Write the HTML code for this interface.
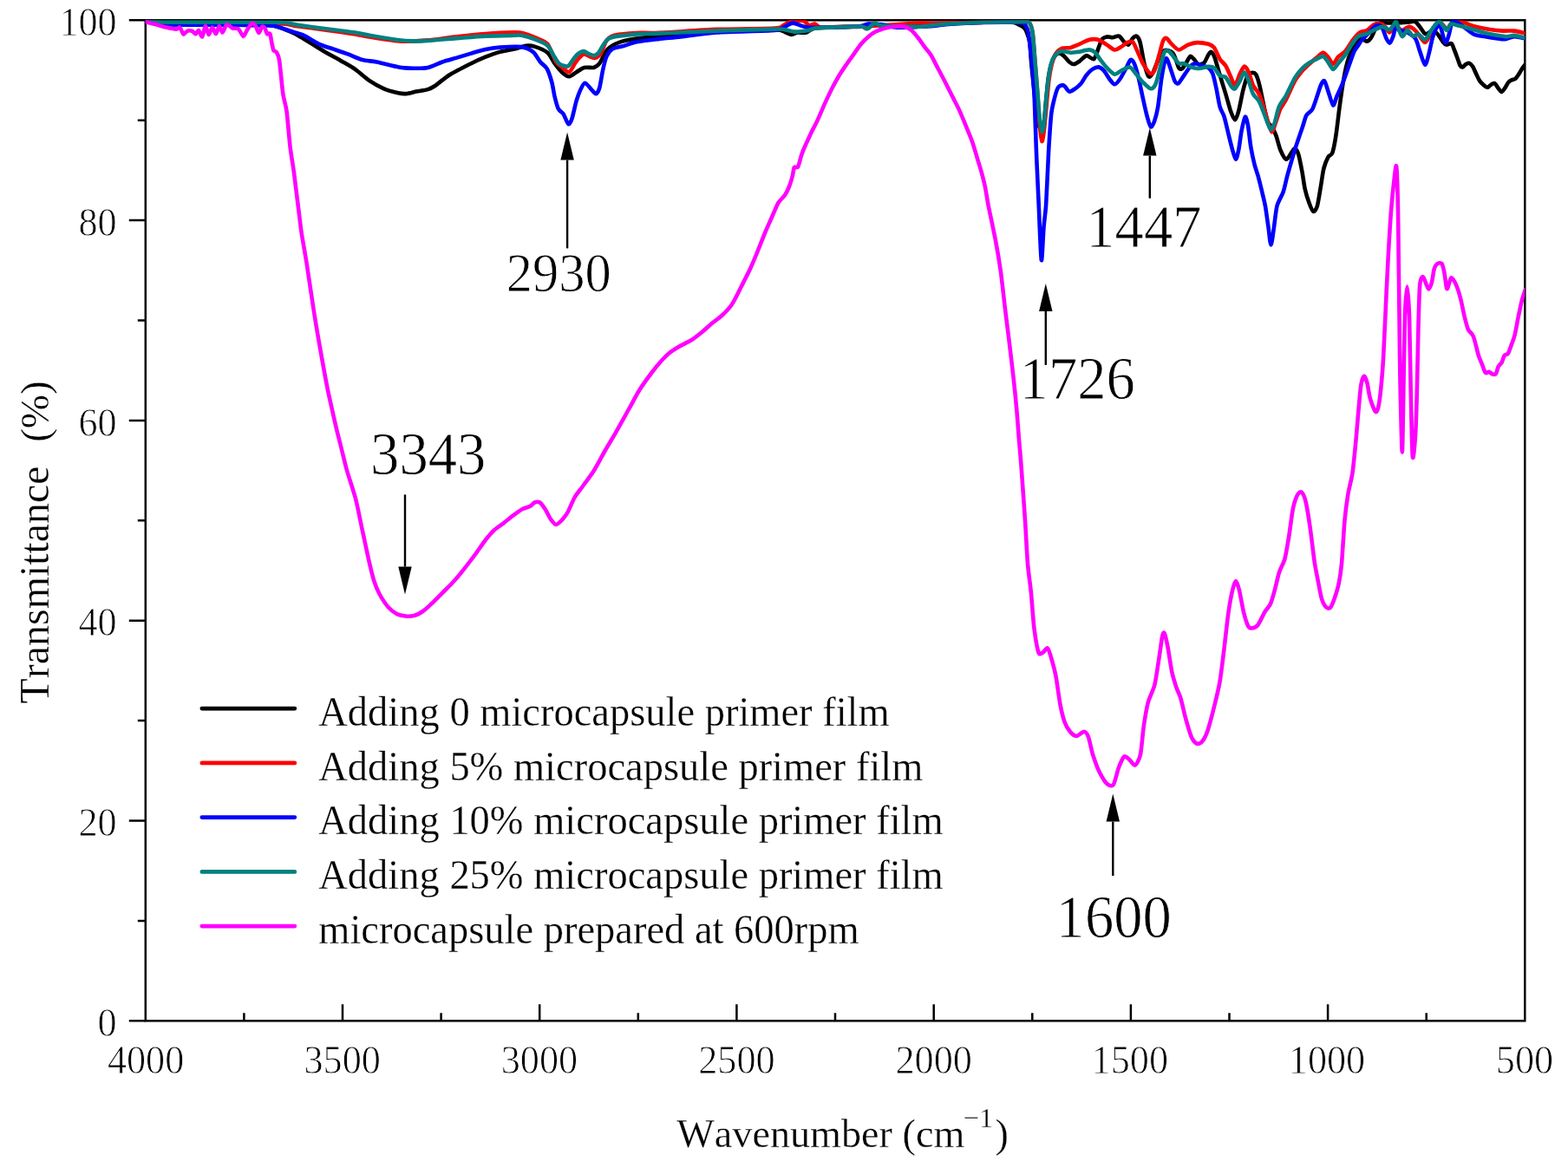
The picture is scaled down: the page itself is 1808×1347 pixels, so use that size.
<!DOCTYPE html>
<html lang="en">
<head>
<meta charset="utf-8">
<title>FTIR spectra</title>
<style>
html,body{margin:0;padding:0;background:#fff;}
body{width:1808px;height:1347px;overflow:hidden;}
svg{display:block;font-kerning:none;}
text{font-family:"Liberation Serif", serif;fill:#000;font-kerning:none;}
.leg{font-size:46.5px;}
.dg{stroke:#fff;stroke-width:0.8px;paint-order:fill stroke;}
.tx{stroke:#fff;stroke-width:0.3px;paint-order:fill stroke;}
.crv{fill:none;stroke-width:4.6;stroke-linejoin:round;stroke-linecap:round;}
</style>
</head>
<body>
<svg width="1808" height="1347" viewBox="0 0 1808 1347">
<rect x="0" y="0" width="1808" height="1347" fill="#ffffff"/>
<defs><clipPath id="plot"><rect x="167.8" y="23.3" width="1590.5" height="1154.0"/></clipPath></defs>
<g stroke="#000" stroke-width="2.5" fill="none" stroke-linecap="butt">
<rect x="167.8" y="23.3" width="1590.5" height="1154.0"/>
<path d="M148.8,1177.3H167.8M158.8,1061.9H167.8M148.8,946.5H167.8M158.8,831.1H167.8M148.8,715.7H167.8M158.8,600.3H167.8M148.8,484.9H167.8M158.8,369.5H167.8M148.8,254.1H167.8M158.8,138.7H167.8M148.8,23.3H167.8M1644.7,1177.3V1168.3M1531.1,1177.3V1158.3M1417.5,1177.3V1168.3M1303.9,1177.3V1158.3M1190.3,1177.3V1168.3M1076.7,1177.3V1158.3M963.0,1177.3V1168.3M849.4,1177.3V1158.3M735.8,1177.3V1168.3M622.2,1177.3V1158.3M508.6,1177.3V1168.3M395.0,1177.3V1158.3M281.4,1177.3V1168.3"/>
</g>
<g clip-path="url(#plot)">
<path class="crv" stroke="#000000" d="M168.0,24.0C171.3,24.5 180.7,27.4 193.0,28.0C205.3,28.6 244.4,28.3 260.0,28.5C275.6,28.7 301.7,28.8 310.0,29.2C318.3,29.6 318.7,30.6 322.0,31.6C325.3,32.6 331.8,35.3 334.6,36.5C337.4,37.7 340.8,39.3 343.0,40.5C345.2,41.7 349.1,44.2 351.3,45.5C353.5,46.8 356.3,48.5 359.6,50.5C362.9,52.5 371.8,58.1 376.2,60.7C380.6,63.3 388.4,67.3 392.8,69.9C397.2,72.5 405.1,76.8 409.5,79.9C413.9,83.0 421.7,90.2 426.1,93.2C430.5,96.2 438.3,100.4 442.7,102.3C447.1,104.2 455.9,106.5 459.3,107.3C462.7,108.1 465.5,108.3 468.3,108.1C471.1,107.9 476.7,106.3 480.0,105.6C483.3,104.9 490.4,104.0 493.3,103.1C496.2,102.2 498.3,101.2 501.6,99.0C504.9,96.8 512.7,89.9 518.2,86.5C523.7,83.1 537.7,76.0 543.2,73.2C548.7,70.4 555.4,67.5 559.8,65.7C564.2,63.9 572.0,61.1 576.4,59.9C580.8,58.7 589.0,57.5 593.0,56.6C597.0,55.7 603.2,53.3 606.3,52.9C609.4,52.5 613.0,52.6 616.3,53.6C619.6,54.6 628.2,58.1 631.3,60.7C634.4,63.3 637.4,70.2 639.6,73.2C641.8,76.2 645.7,81.2 647.9,83.2C650.1,85.2 654.0,88.2 656.2,88.2C658.4,88.2 662.3,84.6 664.6,83.2C666.9,81.8 671.0,78.6 673.7,77.9C676.4,77.2 682.2,78.5 684.5,77.9C686.8,77.3 689.2,75.8 691.2,73.2C693.2,70.6 697.1,61.2 699.5,58.2C701.9,55.2 706.0,52.5 709.5,50.8C713.0,49.1 719.5,47.0 726.1,45.8C732.7,44.6 751.4,42.4 759.3,41.6C767.2,40.8 776.0,40.2 785.0,39.5C794.0,38.8 812.1,37.2 826.5,36.5C840.9,35.8 882.4,34.0 893.0,34.1C903.6,34.2 903.7,36.7 906.3,37.5C908.9,38.3 910.4,39.9 912.2,39.9C914.0,39.9 917.4,37.8 919.7,37.5C922.0,37.2 926.9,38.2 929.6,37.5C932.3,36.8 934.5,33.3 939.6,32.5C944.7,31.7 960.8,31.6 967.9,31.3C975.0,31.0 988.5,30.3 992.8,30.5C997.1,30.7 998.3,33.5 1000.3,33.0C1002.3,32.5 1005.7,27.5 1007.8,27.0C1009.9,26.5 1012.6,29.2 1016.1,29.6C1019.6,30.0 1028.6,30.1 1034.4,30.3C1040.2,30.5 1053.7,31.0 1059.3,30.8C1064.9,30.6 1072.1,29.5 1076.6,29.1C1081.1,28.7 1085.5,27.9 1093.3,27.5C1101.1,27.1 1125.1,26.0 1134.8,25.8C1144.5,25.6 1160.9,25.6 1166.0,25.8C1171.1,26.0 1171.4,26.9 1173.0,27.5C1174.6,28.1 1176.8,29.3 1178.0,30.0C1179.2,30.7 1180.9,32.0 1181.7,33.0C1182.5,34.0 1183.2,35.2 1183.9,37.3C1184.6,39.4 1186.6,43.9 1187.3,48.4C1188.0,52.9 1188.4,63.8 1189.0,70.7C1189.6,77.6 1191.1,91.4 1192.0,100.0C1192.9,108.6 1194.9,128.3 1196.0,135.0C1197.1,141.7 1198.9,149.3 1200.0,150.0C1201.1,150.7 1203.1,144.8 1203.9,140.0C1204.7,135.2 1205.6,120.7 1206.3,114.0C1207.0,107.3 1208.0,95.4 1208.8,90.0C1209.6,84.6 1211.2,76.9 1212.2,73.5C1213.2,70.1 1215.1,66.1 1216.3,64.5C1217.5,62.9 1219.7,61.6 1221.0,61.5C1222.3,61.4 1224.7,62.8 1226.3,64.1C1227.9,65.4 1231.4,70.2 1233.0,71.5C1234.6,72.8 1236.5,74.1 1238.0,74.0C1239.5,73.9 1242.6,72.0 1244.6,70.7C1246.6,69.4 1250.7,64.4 1252.9,64.1C1255.1,63.8 1259.4,69.2 1261.2,68.2C1263.0,67.2 1265.0,59.6 1266.2,56.6C1267.4,53.6 1269.1,47.7 1270.4,45.8C1271.7,43.9 1274.5,42.7 1276.2,42.4C1277.9,42.1 1281.0,43.4 1282.9,43.3C1284.8,43.2 1288.5,40.9 1290.3,41.6C1292.1,42.3 1294.8,47.0 1296.2,48.3C1297.6,49.6 1299.8,52.2 1301.1,51.6C1302.4,51.0 1304.9,45.4 1306.1,44.1C1307.3,42.8 1309.2,41.0 1310.3,41.6C1311.4,42.2 1313.3,44.1 1314.5,48.3C1315.7,52.5 1318.1,67.9 1319.4,73.2C1320.7,78.5 1323.1,86.8 1324.4,88.2C1325.7,89.6 1327.9,86.7 1329.4,84.0C1330.9,81.3 1334.2,71.4 1336.0,68.0C1337.8,64.6 1340.5,59.1 1342.7,58.2C1344.9,57.3 1350.5,58.9 1352.7,61.6C1354.9,64.3 1357.9,75.9 1359.3,78.2C1360.7,80.5 1362.1,79.9 1363.3,79.0C1364.5,78.1 1367.1,73.4 1368.3,71.5C1369.5,69.6 1371.4,65.3 1372.5,64.9C1373.6,64.5 1375.4,67.0 1376.6,68.2C1377.8,69.4 1380.0,73.4 1381.6,74.0C1383.2,74.6 1386.7,73.8 1388.3,72.4C1389.9,71.0 1392.2,64.9 1393.3,63.2C1394.4,61.5 1395.6,59.4 1396.6,59.9C1397.6,60.4 1399.4,63.1 1400.7,66.6C1402.0,70.1 1404.9,81.0 1406.6,86.5C1408.3,92.0 1411.5,102.6 1413.2,108.1C1414.9,113.6 1417.6,124.1 1419.0,128.1C1420.4,132.1 1422.8,138.1 1424.0,138.1C1425.2,138.1 1427.0,132.5 1428.2,128.1C1429.4,123.7 1431.9,110.1 1433.2,104.8C1434.5,99.5 1436.9,91.0 1438.2,88.2C1439.5,85.4 1441.9,84.3 1443.2,84.0C1444.5,83.7 1446.9,83.8 1448.1,85.7C1449.3,87.6 1451.2,93.9 1452.3,98.2C1453.4,102.5 1455.3,112.6 1456.5,118.1C1457.7,123.6 1460.1,136.0 1461.4,139.7C1462.7,143.4 1465.1,143.8 1466.4,146.0C1467.7,148.2 1470.1,152.8 1471.4,156.4C1472.7,160.0 1474.8,169.3 1476.4,173.0C1478.0,176.7 1481.4,183.4 1483.1,183.8C1484.8,184.2 1487.6,178.0 1488.9,176.3C1490.2,174.6 1491.9,171.1 1493.0,171.3C1494.1,171.5 1496.1,174.5 1497.2,178.0C1498.3,181.5 1500.4,192.6 1501.4,197.9C1502.4,203.2 1503.6,213.0 1504.7,217.9C1505.8,222.8 1508.4,231.0 1509.7,234.5C1511.0,238.0 1513.1,243.3 1514.3,243.8C1515.5,244.3 1517.6,241.8 1518.8,237.9C1520.0,234.0 1522.0,220.4 1523.0,214.6C1524.0,208.8 1525.2,199.0 1526.3,194.6C1527.4,190.2 1530.0,183.7 1531.3,181.3C1532.6,178.9 1535.1,179.6 1536.3,176.3C1537.5,173.0 1539.3,163.5 1540.4,156.4C1541.5,149.3 1543.4,132.0 1544.6,123.1C1545.8,114.2 1548.3,97.1 1549.6,89.8C1550.9,82.5 1553.1,73.1 1554.6,68.2C1556.1,63.3 1559.4,56.4 1561.2,53.3C1563.0,50.2 1566.5,45.9 1567.9,44.9C1569.3,43.9 1570.8,45.2 1572.0,45.6C1573.2,46.0 1575.4,48.0 1576.6,47.6C1577.8,47.2 1580.0,44.9 1581.3,42.9C1582.6,40.9 1585.0,34.6 1586.6,32.3C1588.2,30.0 1591.4,26.4 1593.2,25.6C1595.0,24.8 1596.9,26.4 1599.9,26.5C1602.9,26.6 1612.6,26.4 1615.8,26.3C1619.0,26.2 1621.7,25.8 1623.8,25.6C1625.9,25.4 1630.0,24.3 1631.8,25.0C1633.6,25.7 1635.6,29.0 1637.1,30.9C1638.6,32.8 1641.7,38.0 1643.1,38.9C1644.5,39.8 1646.4,38.1 1647.7,37.6C1649.0,37.1 1651.6,34.6 1653.0,34.9C1654.4,35.2 1656.9,38.4 1658.3,40.2C1659.7,42.0 1662.5,46.7 1663.7,48.2C1664.9,49.7 1666.3,51.2 1667.6,51.5C1668.9,51.8 1672.4,49.4 1673.6,50.2C1674.8,51.0 1675.9,55.1 1676.9,57.5C1677.9,59.9 1680.0,65.8 1680.9,68.2C1681.8,70.6 1682.9,74.3 1683.6,75.5C1684.3,76.7 1685.3,77.7 1686.2,77.5C1687.1,77.3 1689.1,74.7 1690.2,74.1C1691.3,73.5 1693.1,72.4 1694.2,72.8C1695.3,73.2 1697.1,75.1 1698.2,76.8C1699.3,78.5 1701.1,83.2 1702.2,85.4C1703.3,87.6 1705.0,91.6 1706.2,93.4C1707.4,95.2 1710.3,97.7 1711.5,98.7C1712.7,99.7 1714.4,100.9 1715.5,100.7C1716.6,100.5 1718.4,98.0 1719.5,97.4C1720.6,96.8 1722.4,95.6 1723.5,96.1C1724.6,96.6 1726.3,100.1 1727.4,101.4C1728.5,102.7 1730.3,106.0 1731.4,106.0C1732.5,106.0 1734.3,102.9 1735.4,101.4C1736.5,99.9 1738.3,95.9 1739.4,94.7C1740.5,93.5 1742.3,92.6 1743.4,92.1C1744.5,91.6 1746.3,91.6 1747.4,90.7C1748.5,89.8 1750.3,87.0 1751.4,85.4C1752.5,83.8 1754.4,80.2 1755.3,78.8C1756.2,77.4 1757.9,75.3 1758.3,74.8"/>
<path class="crv" stroke="#ff0000" d="M168.0,24.0C171.3,24.4 173.0,26.8 193.0,27.2C213.0,27.6 298.0,26.8 318.0,27.2C338.0,27.6 335.3,29.3 343.0,30.3C350.7,31.3 367.1,33.4 376.0,34.6C384.9,35.8 402.8,38.4 409.5,39.5C416.2,40.6 419.3,41.5 426.0,42.6C432.7,43.7 451.1,46.9 460.0,47.4C468.9,47.9 484.1,47.1 493.0,46.4C501.9,45.7 517.6,43.4 526.5,42.4C535.4,41.4 550.9,39.8 559.8,39.1C568.7,38.4 587.2,37.5 593.0,37.4C598.8,37.3 599.7,37.4 603.0,38.2C606.3,39.0 614.2,41.9 618.0,43.6C621.8,45.3 628.2,47.1 631.3,50.8C634.4,54.5 639.1,68.0 641.3,71.5C643.5,75.0 645.9,75.8 647.9,77.4C649.9,79.0 654.2,83.8 656.2,83.2C658.2,82.6 661.3,75.4 662.9,73.2C664.5,71.0 666.5,68.0 667.9,66.6C669.3,65.2 671.9,62.5 673.7,62.4C675.5,62.3 679.5,65.1 681.2,65.7C682.9,66.3 684.7,67.4 686.2,66.9C687.7,66.4 691.0,64.3 692.8,61.6C694.6,58.9 697.3,49.4 699.5,46.6C701.7,43.8 704.8,41.6 709.5,40.5C714.2,39.4 727.7,38.4 734.4,38.0C741.1,37.6 747.7,38.3 760.0,37.8C772.3,37.3 808.8,34.6 826.5,33.9C844.2,33.2 882.8,33.2 893.0,32.6C903.0,32.0 900.3,30.6 903.0,29.5C905.7,28.4 909.9,24.8 913.0,24.1C916.1,23.4 923.6,23.4 926.3,24.1C929.0,24.8 931.2,28.6 933.0,29.1C934.8,29.6 937.8,27.2 939.6,27.5C941.4,27.8 942.5,31.2 946.3,31.6C950.1,32.0 961.7,30.9 967.9,30.8C974.1,30.7 980.6,31.4 992.8,30.8C1005.0,30.2 1048.1,27.1 1059.3,26.6C1070.5,26.1 1072.1,27.0 1076.6,27.0C1081.1,27.0 1085.5,26.7 1093.3,26.5C1101.1,26.3 1123.7,26.0 1134.8,25.8C1145.9,25.6 1169.5,25.3 1176.4,25.3C1183.3,25.3 1184.5,24.3 1186.4,25.8C1188.3,27.3 1189.6,31.4 1190.5,36.6C1191.4,41.8 1192.2,55.1 1193.0,64.9C1193.8,74.7 1195.6,99.3 1196.4,110.0C1197.2,120.7 1198.2,137.9 1198.9,145.0C1199.6,152.1 1200.7,162.3 1201.4,163.0C1202.1,163.7 1203.2,155.7 1203.9,150.0C1204.6,144.3 1206.1,127.7 1206.8,120.0C1207.5,112.3 1208.7,98.2 1209.5,92.0C1210.3,85.8 1212.0,77.1 1213.0,73.2C1214.0,69.3 1215.6,64.8 1217.0,62.5C1218.4,60.2 1221.5,57.0 1223.8,56.0C1226.1,55.0 1232.1,55.5 1234.6,54.9C1237.1,54.3 1240.0,52.8 1242.9,51.6C1245.8,50.4 1253.1,46.6 1256.2,45.8C1259.3,45.0 1263.5,45.0 1266.2,45.8C1268.9,46.6 1273.7,50.1 1276.2,51.6C1278.7,53.1 1283.1,57.1 1285.3,57.4C1287.5,57.7 1290.9,55.2 1292.8,54.1C1294.7,53.0 1297.7,49.9 1299.5,49.1C1301.3,48.3 1304.6,47.1 1306.1,48.3C1307.6,49.5 1309.5,54.9 1311.1,58.2C1312.7,61.5 1315.8,69.7 1317.8,73.2C1319.8,76.7 1324.3,83.7 1326.1,84.8C1327.9,85.9 1329.8,84.2 1331.1,81.5C1332.4,78.8 1334.8,69.4 1336.1,64.9C1337.4,60.4 1339.8,50.2 1341.0,47.4C1342.2,44.6 1343.9,43.6 1345.2,44.1C1346.5,44.6 1349.1,49.0 1351.0,50.8C1352.9,52.6 1356.8,57.3 1359.3,57.4C1361.8,57.5 1367.2,52.7 1370.0,51.6C1372.8,50.5 1376.9,49.2 1380.0,49.1C1383.1,49.0 1390.6,50.0 1393.3,50.8C1396.0,51.6 1398.2,52.6 1400.0,54.9C1401.8,57.2 1404.8,65.4 1406.6,68.2C1408.4,71.0 1411.5,73.0 1413.2,75.7C1414.9,78.4 1417.6,85.2 1419.0,88.2C1420.4,91.2 1422.6,98.7 1424.0,98.2C1425.4,97.7 1428.4,87.7 1429.8,84.8C1431.2,81.9 1433.5,76.7 1434.8,76.5C1436.1,76.3 1438.5,80.3 1439.8,83.2C1441.1,86.1 1443.2,94.9 1444.8,98.2C1446.4,101.5 1449.9,105.0 1451.5,108.1C1453.1,111.2 1455.2,117.4 1456.5,121.4C1457.8,125.4 1460.1,134.0 1461.4,138.1C1462.7,142.2 1465.1,151.9 1466.4,152.2C1467.7,152.5 1470.1,143.6 1471.4,140.0C1472.7,136.4 1474.8,128.9 1476.4,125.5C1478.0,122.1 1480.9,118.8 1483.1,114.5C1485.3,110.2 1490.6,97.8 1493.0,93.5C1495.4,89.2 1499.2,84.6 1501.4,82.0C1503.6,79.4 1507.5,75.9 1509.7,73.8C1511.9,71.7 1515.9,68.3 1518.0,66.6C1520.1,64.9 1523.7,60.8 1525.5,60.7C1527.3,60.6 1529.8,63.9 1531.3,65.7C1532.8,67.5 1535.6,74.0 1537.1,74.0C1538.6,74.0 1541.0,67.7 1542.9,65.7C1544.8,63.7 1549.0,61.6 1551.2,59.1C1553.4,56.6 1557.4,49.5 1559.6,46.6C1561.8,43.7 1565.7,39.0 1567.9,37.5C1570.1,36.0 1574.0,36.2 1576.2,35.0C1578.4,33.8 1582.3,29.3 1584.5,28.3C1586.7,27.3 1591.0,27.1 1592.8,27.5C1594.6,27.9 1596.6,30.3 1597.8,31.6C1599.0,32.9 1600.9,37.4 1602.0,37.5C1603.1,37.6 1605.1,33.7 1606.1,32.5C1607.1,31.3 1608.5,28.2 1609.5,28.3C1610.5,28.4 1612.5,32.1 1613.5,33.0C1614.5,33.9 1615.6,35.2 1617.1,34.9C1618.6,34.6 1623.0,30.7 1625.1,30.9C1627.2,31.1 1630.7,33.9 1633.1,36.3C1635.5,38.7 1640.8,48.7 1643.1,48.9C1645.4,49.1 1648.1,40.7 1650.4,37.6C1652.7,34.5 1657.9,26.5 1660.3,26.0C1662.7,25.5 1666.6,33.3 1668.3,33.5C1670.0,33.7 1671.5,28.7 1673.0,27.6C1674.5,26.5 1677.5,25.8 1679.6,25.6C1681.7,25.4 1686.2,25.7 1688.9,26.3C1691.6,26.9 1695.4,29.2 1699.5,30.3C1703.6,31.4 1715.1,33.6 1719.5,34.3C1723.9,35.0 1729.3,35.4 1732.8,35.6C1736.3,35.8 1742.6,35.2 1746.0,35.6C1749.4,36.0 1756.7,37.9 1758.3,38.3"/>
<path class="crv" stroke="#0000ff" d="M168.0,24.0C171.3,24.6 180.7,27.6 193.0,28.2C205.3,28.8 244.4,28.6 260.0,28.7C275.6,28.8 301.7,28.9 310.0,29.3C318.3,29.7 318.7,30.6 322.0,31.5C325.3,32.4 330.9,34.6 334.6,35.8C338.3,37.0 345.6,38.6 350.0,40.6C354.4,42.6 363.3,48.7 367.9,50.8C372.5,52.9 380.1,55.1 384.5,56.6C388.9,58.1 396.7,60.7 401.1,62.4C405.5,64.1 413.4,67.8 417.8,69.0C422.2,70.2 428.8,70.4 434.4,71.5C440.0,72.6 454.4,76.4 460.0,77.4C465.6,78.4 472.2,78.6 476.6,78.7C481.0,78.8 488.9,78.9 493.3,77.9C497.7,76.9 505.5,73.0 509.9,71.5C514.3,70.0 522.1,67.9 526.5,66.6C530.9,65.3 538.8,62.9 543.2,61.6C547.6,60.3 555.4,57.8 559.8,56.9C564.2,56.0 570.9,55.0 576.4,54.6C581.9,54.2 596.3,53.4 601.4,54.1C606.5,54.8 611.8,57.6 614.7,59.9C617.6,62.2 620.9,69.0 623.0,71.5C625.1,74.0 628.7,75.9 630.5,79.0C632.3,82.1 635.1,90.5 636.3,94.8C637.5,99.1 638.6,107.4 639.6,111.5C640.6,115.6 642.5,122.9 643.8,125.6C645.1,128.3 648.1,129.1 649.6,131.4C651.1,133.7 654.1,142.4 655.4,143.1C656.7,143.8 658.4,140.0 659.6,136.4C660.8,132.8 663.3,120.8 664.6,116.4C665.9,112.0 668.2,105.9 669.5,103.1C670.8,100.3 672.9,95.8 674.5,95.7C676.1,95.6 679.5,100.6 681.2,102.3C682.9,104.0 685.7,108.2 687.0,108.1C688.3,108.0 690.1,105.3 691.2,101.5C692.3,97.7 694.2,84.8 695.3,79.9C696.4,75.0 698.1,68.0 699.5,64.9C700.9,61.8 703.7,58.1 706.1,56.6C708.5,55.1 714.0,54.4 717.8,53.3C721.6,52.2 728.8,49.4 734.4,48.3C740.0,47.2 753.3,45.7 760.0,44.9C766.7,44.1 776.1,43.4 785.0,42.4C793.9,41.4 812.1,38.5 826.5,37.5C840.9,36.5 882.6,35.9 893.0,35.0C903.4,34.1 901.8,31.9 904.7,30.8C907.6,29.7 911.2,26.5 914.7,26.6C918.2,26.7 924.2,31.0 931.3,31.6C938.4,32.2 959.7,31.5 967.9,31.3C976.1,31.1 988.4,30.5 992.8,30.0C997.2,29.5 997.9,27.7 1001.0,27.5C1004.1,27.3 1011.5,27.8 1016.0,28.3C1020.5,28.8 1028.6,31.3 1034.4,31.6C1040.2,31.9 1053.7,31.0 1059.3,30.8C1064.9,30.6 1072.1,30.4 1076.6,30.0C1081.1,29.6 1085.5,28.5 1093.3,28.0C1101.1,27.5 1124.6,26.3 1134.8,26.0C1145.0,25.7 1164.1,25.7 1170.0,25.8C1175.9,25.9 1177.3,26.2 1179.0,26.6C1180.7,27.0 1181.6,27.6 1182.5,29.0C1183.4,30.4 1184.9,33.7 1185.6,37.3C1186.3,40.9 1187.5,51.5 1188.0,56.0C1188.5,60.5 1189.1,66.2 1189.5,70.7C1189.9,75.2 1190.8,83.7 1191.2,89.6C1191.6,95.5 1192.3,102.6 1192.8,114.8C1193.3,127.0 1194.5,164.9 1195.2,181.3C1195.9,197.7 1197.1,222.1 1197.8,237.9C1198.5,253.7 1200.0,296.8 1200.8,300.0C1201.6,303.2 1202.8,270.3 1203.5,262.0C1204.2,253.7 1205.4,246.4 1206.0,237.9C1206.6,229.4 1207.5,207.8 1208.0,198.0C1208.5,188.2 1209.1,173.6 1209.7,164.7C1210.3,155.8 1211.4,138.1 1212.2,131.4C1213.0,124.7 1214.5,118.8 1215.5,114.8C1216.5,110.8 1218.5,103.7 1219.7,101.5C1220.9,99.3 1223.5,98.4 1224.6,98.2C1225.7,98.0 1226.9,98.8 1228.0,99.8C1229.1,100.8 1231.5,105.3 1233.0,105.6C1234.5,105.9 1237.8,103.5 1239.6,102.3C1241.4,101.1 1244.5,98.6 1246.3,96.5C1248.1,94.4 1251.1,88.7 1252.9,86.5C1254.7,84.3 1257.7,81.1 1259.6,79.9C1261.5,78.7 1265.2,77.2 1267.0,77.4C1268.8,77.6 1271.2,79.6 1272.9,81.5C1274.6,83.4 1277.8,89.4 1279.5,91.5C1281.2,93.6 1283.7,97.3 1285.3,97.3C1286.9,97.3 1289.5,93.8 1291.2,91.5C1292.9,89.2 1296.1,82.9 1297.8,79.9C1299.5,76.9 1302.3,69.9 1303.6,69.0C1304.9,68.1 1306.6,70.4 1307.8,73.2C1309.0,76.0 1311.5,84.5 1312.8,89.8C1314.1,95.1 1316.5,107.1 1317.8,113.1C1319.1,119.1 1321.6,130.3 1322.8,134.7C1324.0,139.1 1325.8,145.7 1326.9,146.4C1328.0,147.1 1330.0,142.8 1331.1,139.7C1332.2,136.6 1334.1,129.8 1335.2,123.1C1336.3,116.4 1338.2,97.2 1339.4,89.8C1340.6,82.4 1343.1,68.9 1344.4,67.4C1345.7,65.9 1348.1,74.8 1349.4,78.2C1350.7,81.6 1353.3,90.8 1354.4,93.2C1355.5,95.6 1357.0,96.3 1357.7,96.5C1358.4,96.7 1358.8,96.4 1360.0,94.8C1361.2,93.2 1364.9,87.3 1366.7,84.8C1368.5,82.3 1371.8,77.2 1373.3,75.7C1374.8,74.2 1376.5,73.2 1378.3,73.2C1380.1,73.2 1384.6,75.0 1386.6,75.7C1388.6,76.4 1391.7,77.0 1393.3,78.2C1394.9,79.4 1397.1,81.7 1398.3,84.8C1399.5,87.9 1401.3,96.4 1402.4,101.5C1403.5,106.6 1405.4,118.7 1406.6,123.1C1407.8,127.5 1410.3,130.5 1411.6,134.7C1412.9,138.9 1415.3,149.8 1416.5,154.7C1417.7,159.6 1419.6,167.4 1420.7,171.3C1421.8,175.2 1423.9,183.6 1424.9,183.8C1425.9,184.0 1427.3,177.3 1428.2,173.0C1429.1,168.7 1430.5,156.5 1431.5,151.4C1432.5,146.3 1434.7,135.6 1435.7,134.7C1436.7,133.8 1438.1,140.0 1439.0,144.7C1439.9,149.4 1441.3,163.7 1442.3,169.7C1443.3,175.7 1445.4,185.2 1446.5,189.6C1447.6,194.0 1449.5,198.9 1450.6,202.9C1451.7,206.9 1453.7,214.9 1454.8,219.6C1455.9,224.3 1458.0,232.2 1459.0,237.9C1460.0,243.6 1461.6,256.1 1462.5,262.0C1463.4,267.9 1464.6,282.5 1465.5,282.5C1466.4,282.5 1468.1,268.0 1469.0,262.0C1469.9,256.0 1471.1,242.9 1472.5,237.5C1473.9,232.1 1478.1,226.0 1479.7,221.2C1481.3,216.4 1482.9,207.7 1484.7,201.3C1486.5,194.9 1490.8,180.1 1493.0,173.0C1495.2,165.9 1499.6,153.3 1501.4,148.0C1503.2,142.7 1504.8,136.0 1506.3,133.1C1507.8,130.2 1511.4,129.1 1513.0,126.4C1514.6,123.7 1516.7,116.9 1518.0,113.1C1519.3,109.3 1521.8,100.9 1523.0,98.2C1524.2,95.5 1526.0,92.3 1527.1,93.2C1528.2,94.1 1530.0,101.0 1531.3,104.8C1532.6,108.6 1535.8,120.5 1537.1,121.4C1538.4,122.3 1539.9,114.8 1541.3,111.5C1542.7,108.2 1546.1,100.9 1547.9,96.5C1549.7,92.1 1552.8,83.1 1554.6,78.2C1556.4,73.3 1559.8,63.2 1561.2,59.9C1562.6,56.6 1564.0,55.4 1565.3,53.5C1566.6,51.6 1568.7,47.9 1570.6,45.6C1572.5,43.3 1577.8,38.4 1579.9,36.3C1582.0,34.2 1584.8,30.3 1586.6,29.6C1588.4,28.9 1591.6,29.0 1593.2,30.9C1594.8,32.8 1597.3,41.7 1598.5,44.2C1599.7,46.7 1601.4,49.9 1602.5,49.6C1603.6,49.3 1605.5,44.3 1606.5,41.6C1607.5,38.9 1608.9,30.5 1609.8,29.6C1610.7,28.7 1611.6,34.1 1613.0,35.0C1614.4,35.9 1617.5,34.8 1620.0,36.0C1622.5,37.2 1629.5,41.1 1631.8,44.2C1634.1,47.3 1635.6,54.8 1637.1,58.9C1638.6,63.0 1641.7,74.5 1643.1,74.8C1644.5,75.1 1646.6,65.6 1647.7,61.5C1648.8,57.4 1650.5,48.3 1651.7,44.2C1652.9,40.1 1655.8,32.7 1657.0,30.9C1658.2,29.1 1659.9,28.9 1661.0,30.9C1662.1,32.9 1664.1,43.2 1665.0,45.6C1665.9,48.0 1666.8,49.8 1667.6,48.9C1668.4,48.0 1670.1,42.0 1671.0,38.9C1671.9,35.8 1673.2,27.4 1674.3,25.6C1675.4,23.8 1677.8,24.9 1679.6,25.6C1681.4,26.3 1684.9,29.0 1687.6,30.9C1690.3,32.8 1696.1,38.1 1699.5,39.6C1702.9,41.1 1708.7,41.5 1712.8,42.2C1716.9,42.9 1726.9,44.5 1730.1,44.9C1733.3,45.3 1734.6,45.3 1736.7,44.9C1738.8,44.5 1743.1,42.3 1746.0,42.2C1748.9,42.1 1756.7,43.9 1758.3,44.2"/>
<path class="crv" stroke="#008080" d="M168.0,24.0C171.3,24.2 173.0,25.4 193.0,25.6C213.0,25.8 298.0,25.4 318.0,25.8C338.0,26.2 335.3,27.8 343.0,28.8C350.7,29.8 367.1,32.1 376.0,33.3C384.9,34.5 402.8,36.5 409.5,37.5C416.2,38.5 419.3,39.6 426.0,40.8C432.7,42.0 453.3,45.4 460.0,46.3C466.7,47.2 472.2,47.3 476.6,47.4C481.0,47.5 486.6,47.3 493.3,46.9C500.0,46.5 517.6,44.8 526.5,44.1C535.4,43.4 550.9,42.0 559.8,41.6C568.7,41.2 587.5,40.9 593.0,40.8C598.5,40.7 598.1,40.1 601.4,40.8C604.7,41.5 614.0,44.3 618.0,45.8C622.0,47.3 628.6,50.1 631.3,52.4C634.0,54.7 636.1,60.4 637.9,63.2C639.7,66.0 642.4,71.4 644.6,73.2C646.8,75.0 652.4,77.2 654.6,76.5C656.8,75.8 659.7,70.1 661.2,68.2C662.7,66.3 664.6,63.6 666.2,62.4C667.8,61.2 671.1,59.1 672.9,59.1C674.7,59.1 677.8,61.7 679.5,62.4C681.2,63.1 683.9,64.3 685.3,64.1C686.7,63.9 688.8,62.5 690.3,60.7C691.8,58.9 694.5,53.0 696.2,50.8C697.9,48.6 700.6,45.3 702.8,44.1C705.0,42.9 708.6,42.2 712.8,41.6C717.0,41.0 728.1,39.8 734.4,39.4C740.7,39.0 747.7,39.1 760.0,38.6C772.3,38.1 808.8,36.3 826.5,35.6C844.2,34.9 882.6,33.8 893.0,33.6C903.4,33.4 901.6,33.7 904.7,34.1C907.8,34.5 912.8,36.4 916.3,36.6C919.8,36.8 928.2,35.8 931.3,35.3C934.4,34.8 934.7,33.0 939.6,32.5C944.5,32.0 960.8,31.6 967.9,31.3C975.0,31.0 988.5,30.3 992.8,30.5C997.1,30.7 998.3,33.5 1000.3,33.0C1002.3,32.5 1005.7,27.5 1007.8,27.0C1009.9,26.5 1012.6,29.2 1016.1,29.6C1019.6,30.0 1028.6,30.1 1034.4,30.3C1040.2,30.5 1053.7,31.0 1059.3,30.8C1064.9,30.6 1072.1,29.5 1076.6,29.1C1081.1,28.7 1085.5,27.9 1093.3,27.5C1101.1,27.1 1123.7,26.1 1134.8,25.8C1145.9,25.5 1169.5,25.3 1176.4,25.3C1183.3,25.3 1184.5,24.3 1186.4,25.8C1188.3,27.3 1189.6,31.4 1190.5,36.6C1191.4,41.8 1192.2,55.6 1193.0,64.9C1193.8,74.2 1195.6,96.7 1196.4,106.5C1197.2,116.3 1198.2,132.0 1198.9,138.1C1199.6,144.2 1200.7,151.8 1201.4,152.2C1202.1,152.6 1203.2,146.4 1203.9,141.4C1204.6,136.4 1205.6,121.7 1206.3,114.8C1207.0,107.9 1208.0,95.3 1208.8,89.8C1209.6,84.3 1211.2,76.6 1212.2,73.2C1213.2,69.8 1214.8,66.0 1216.3,64.1C1217.8,62.2 1221.4,59.6 1223.8,59.1C1226.2,58.6 1232.1,60.6 1234.6,60.7C1237.1,60.8 1240.0,60.3 1242.9,59.9C1245.8,59.5 1253.5,57.3 1256.2,57.4C1258.9,57.5 1261.1,59.0 1262.9,60.7C1264.7,62.4 1267.5,67.3 1269.5,69.9C1271.5,72.5 1275.8,77.8 1277.9,79.9C1280.0,82.0 1283.3,85.5 1285.3,85.7C1287.3,85.9 1290.5,82.6 1292.8,81.5C1295.1,80.4 1300.6,77.0 1302.8,77.4C1305.0,77.8 1307.5,82.5 1309.5,84.8C1311.5,87.1 1315.5,92.5 1317.8,94.8C1320.1,97.1 1324.9,102.1 1326.9,102.3C1328.9,102.5 1331.3,99.7 1332.7,96.5C1334.1,93.3 1336.4,83.1 1337.7,78.2C1339.0,73.3 1341.4,62.4 1342.7,59.9C1344.0,57.4 1346.4,58.4 1347.7,59.1C1349.0,59.8 1351.2,63.0 1352.7,64.9C1354.2,66.8 1357.7,72.1 1359.3,73.2C1360.9,74.3 1363.1,72.6 1365.0,73.2C1366.9,73.8 1371.1,76.6 1373.3,77.4C1375.5,78.2 1378.9,79.1 1381.6,79.0C1384.3,78.9 1390.8,77.0 1393.3,76.9C1395.8,76.8 1398.2,76.8 1400.0,78.2C1401.8,79.6 1404.8,85.9 1406.6,87.3C1408.4,88.7 1411.4,87.3 1413.2,89.0C1415.0,90.7 1418.5,98.0 1419.9,99.8C1421.3,101.6 1422.7,103.2 1424.0,102.3C1425.3,101.4 1428.4,95.7 1429.8,93.2C1431.2,90.7 1433.5,83.2 1434.8,83.2C1436.1,83.2 1438.5,89.9 1439.8,93.2C1441.1,96.5 1443.2,105.0 1444.8,108.1C1446.4,111.2 1449.9,113.7 1451.5,116.4C1453.1,119.1 1455.2,124.8 1456.5,128.1C1457.8,131.4 1460.2,138.5 1461.4,141.4C1462.6,144.3 1464.5,149.7 1465.6,149.7C1466.7,149.7 1468.6,144.9 1469.8,141.4C1471.0,137.9 1473.0,127.3 1474.8,123.1C1476.6,118.9 1480.7,114.2 1483.1,109.8C1485.5,105.4 1490.6,93.9 1493.0,89.8C1495.4,85.7 1499.2,81.3 1501.4,79.0C1503.6,76.7 1507.5,73.8 1509.7,72.4C1511.9,71.0 1515.9,69.2 1518.0,68.2C1520.1,67.2 1523.7,64.5 1525.5,64.9C1527.3,65.3 1529.8,69.5 1531.3,71.5C1532.8,73.5 1535.6,79.7 1537.1,79.9C1538.6,80.1 1541.0,75.4 1542.9,73.2C1544.8,71.0 1549.0,66.3 1551.2,63.2C1553.4,60.1 1557.5,52.8 1559.6,49.9C1561.7,47.0 1564.4,43.1 1566.6,41.6C1568.8,40.1 1573.2,40.0 1575.9,38.9C1578.6,37.8 1584.1,34.7 1586.6,33.6C1589.1,32.5 1592.6,30.8 1594.6,30.9C1596.6,31.0 1600.4,34.4 1601.9,34.3C1603.4,34.2 1604.9,31.2 1606.0,30.0C1607.1,28.8 1608.8,24.3 1609.8,25.0C1610.8,25.7 1612.2,32.6 1613.2,34.9C1614.2,37.2 1615.8,42.2 1617.1,42.2C1618.4,42.2 1621.5,35.0 1623.1,34.9C1624.7,34.8 1627.4,41.0 1629.1,41.6C1630.8,42.2 1633.8,39.1 1635.7,39.6C1637.6,40.1 1641.1,46.2 1643.1,45.6C1645.1,45.0 1648.7,37.3 1650.4,34.9C1652.1,32.5 1654.4,28.9 1655.7,27.6C1657.0,26.3 1659.2,24.6 1660.3,25.0C1661.4,25.4 1663.2,29.0 1664.3,30.3C1665.4,31.6 1667.1,35.3 1668.3,34.9C1669.5,34.5 1671.5,28.4 1673.0,27.6C1674.5,26.8 1676.9,28.4 1679.6,29.0C1682.3,29.6 1689.4,31.3 1692.9,32.3C1696.4,33.3 1702.7,35.3 1706.2,36.3C1709.7,37.3 1715.4,38.8 1719.5,39.6C1723.6,40.4 1733.2,42.0 1736.7,42.2C1740.2,42.4 1743.1,40.7 1746.0,40.9C1748.9,41.1 1756.7,43.2 1758.3,43.6"/>
<path class="crv" stroke="#ff00ff" d="M168.3,25.3C169.9,25.7 176.9,27.5 180.0,28.3C183.1,29.1 188.5,30.9 191.6,31.6C194.7,32.3 201.1,33.6 203.2,33.6C205.3,33.6 206.3,30.8 207.4,31.6C208.5,32.4 210.5,39.0 211.6,39.6C212.7,40.2 214.4,36.3 215.7,35.8C217.0,35.3 220.2,35.4 221.5,35.8C222.8,36.2 224.7,39.2 225.7,39.1C226.7,39.0 228.0,34.6 229.0,35.0C230.0,35.4 232.2,43.1 233.2,42.4C234.2,41.7 235.8,30.3 236.8,30.0C237.8,29.7 239.6,39.8 240.7,40.0C241.8,40.2 243.7,31.7 244.8,31.6C245.9,31.5 247.9,39.3 249.0,39.1C250.1,38.9 251.8,30.2 252.8,30.0C253.8,29.8 255.4,37.7 256.5,37.5C257.6,37.3 259.9,29.0 261.4,28.3C262.9,27.6 266.3,31.8 268.1,32.5C269.9,33.2 273.1,32.0 274.8,33.3C276.5,34.6 279.3,41.7 280.6,41.9C281.9,42.1 283.4,37.0 284.7,35.0C286.0,33.0 289.2,27.7 290.5,27.0C291.8,26.3 293.6,28.5 294.7,30.0C295.8,31.5 297.4,37.9 298.4,38.0C299.4,38.1 301.3,31.5 302.2,30.8C303.1,30.1 304.7,31.4 305.5,32.5C306.3,33.6 307.2,38.2 308.0,39.1C308.8,40.0 310.5,37.4 311.3,39.1C312.1,40.8 313.2,49.1 313.8,51.6C314.4,54.1 314.8,57.1 315.5,58.2C316.2,59.3 317.9,58.6 318.8,60.2C319.7,61.8 321.1,63.5 322.1,69.9C323.1,76.3 325.2,100.3 326.3,108.1C327.4,115.9 329.4,119.9 330.5,128.1C331.6,136.3 333.5,160.4 334.6,169.7C335.7,179.0 337.6,188.8 338.8,197.9C340.0,207.0 342.6,228.6 343.8,237.9C345.0,247.2 346.2,258.6 347.5,267.5C348.8,276.4 352.0,293.3 353.8,305.0C355.6,316.7 359.3,342.3 361.3,355.0C363.3,367.7 366.6,387.7 368.8,400.0C371.0,412.3 375.0,435.2 377.5,447.5C380.0,459.8 385.5,483.8 387.5,492.5C389.5,501.2 390.8,505.8 392.5,512.5C394.2,519.2 397.7,534.2 400.0,542.5C402.3,550.8 407.7,566.0 410.0,575.0C412.3,584.0 415.5,600.7 417.5,610.0C419.5,619.3 423.2,637.0 425.0,645.0C426.8,653.0 429.6,664.7 431.3,670.0C433.0,675.3 435.3,681.0 437.5,685.0C439.7,689.0 444.8,696.9 447.5,700.0C450.2,703.1 454.8,706.6 457.5,708.0C460.2,709.4 464.8,710.2 467.5,710.5C470.2,710.8 474.8,710.7 477.5,710.0C480.2,709.3 484.8,706.8 487.5,705.0C490.2,703.2 494.5,699.1 497.5,696.3C500.5,693.5 506.7,687.1 510.0,683.8C513.3,680.5 519.2,675.0 522.5,671.3C525.8,667.6 531.7,660.5 535.0,656.3C538.3,652.1 544.2,644.5 547.5,640.0C550.8,635.5 557.0,626.3 560.0,622.5C563.0,618.7 567.3,613.8 570.0,611.3C572.7,608.8 577.0,606.1 580.0,603.8C583.0,601.5 589.5,596.0 592.5,593.8C595.5,591.6 600.0,588.3 602.5,587.0C605.0,585.7 609.5,584.8 611.3,583.8C613.1,582.8 614.8,580.1 616.3,579.5C617.8,578.9 620.8,578.4 622.5,579.5C624.2,580.6 627.1,584.9 628.8,587.5C630.5,590.1 633.3,596.5 635.0,598.8C636.7,601.1 639.5,605.0 641.3,605.0C643.1,605.0 647.0,600.8 648.8,598.8C650.6,596.8 653.2,593.3 655.0,590.0C656.8,586.7 660.2,577.8 662.5,573.8C664.8,569.8 669.5,564.2 672.5,560.0C675.5,555.8 681.7,547.8 685.0,542.5C688.3,537.2 694.2,525.8 697.5,520.0C700.8,514.2 706.3,505.2 710.0,498.8C713.7,492.4 721.3,478.6 725.0,472.0C728.7,465.4 734.0,455.1 737.5,449.5C741.0,443.9 748.0,434.4 751.3,430.0C754.6,425.6 759.8,419.3 762.5,416.3C765.2,413.3 768.6,409.7 771.3,407.5C774.0,405.3 779.0,402.1 782.5,400.0C786.0,397.9 793.8,394.3 797.5,392.0C801.2,389.7 806.8,385.1 810.0,382.5C813.2,379.9 818.3,375.0 821.3,372.5C824.3,370.0 829.5,366.6 832.5,363.8C835.5,361.0 840.8,355.8 843.8,351.3C846.8,346.8 852.2,335.5 855.0,330.0C857.8,324.5 862.7,315.0 865.0,310.0C867.3,305.0 870.2,298.2 872.5,292.5C874.8,286.8 880.0,273.5 882.5,267.5C885.0,261.5 889.3,252.0 891.3,247.5C893.3,243.0 895.7,236.8 897.5,233.8C899.3,230.8 903.3,227.5 905.0,225.0C906.7,222.5 908.8,217.9 910.0,215.0C911.2,212.1 913.0,205.9 913.8,203.0C914.6,200.1 915.0,194.4 915.8,193.0C916.6,191.6 918.9,194.2 920.0,192.5C921.1,190.8 923.0,182.6 923.8,180.0C924.6,177.4 924.9,176.4 926.3,173.0C927.7,169.6 932.4,159.4 934.6,154.7C936.8,150.0 940.7,142.9 942.9,138.1C945.1,133.3 949.1,123.8 951.3,118.9C953.5,114.0 957.4,105.8 959.6,101.5C961.8,97.2 965.7,90.2 967.9,86.5C970.1,82.8 974.0,77.2 976.2,74.0C978.4,70.8 982.3,65.5 984.5,62.4C986.7,59.3 990.6,53.5 992.8,50.8C995.0,48.1 998.9,44.3 1001.1,42.4C1003.3,40.5 1007.3,37.8 1009.5,36.6C1011.7,35.4 1015.6,34.0 1017.8,33.3C1020.0,32.6 1023.9,31.7 1026.1,31.3C1028.3,30.9 1032.2,30.6 1034.4,30.5C1036.6,30.4 1040.5,30.2 1042.7,30.8C1044.9,31.4 1048.8,33.2 1051.0,35.0C1053.2,36.8 1057.2,41.8 1059.3,44.5C1061.4,47.2 1064.8,52.4 1066.7,54.9C1068.6,57.4 1071.3,60.0 1073.3,63.2C1075.3,66.4 1079.4,74.8 1081.6,79.0C1083.8,83.2 1087.7,90.5 1089.9,94.8C1092.1,99.1 1096.1,107.1 1098.3,111.5C1100.5,115.9 1104.4,123.2 1106.6,128.1C1108.8,133.0 1112.9,143.1 1114.9,148.0C1116.9,152.9 1120.0,160.3 1121.5,164.7C1123.0,169.1 1125.2,176.9 1126.5,181.3C1127.8,185.7 1130.3,193.5 1131.5,197.9C1132.7,202.3 1134.6,209.3 1135.7,214.6C1136.8,219.9 1138.2,229.8 1139.8,237.9C1141.4,246.0 1145.6,265.1 1147.5,275.0C1149.4,284.9 1152.3,301.8 1153.8,312.5C1155.3,323.2 1157.5,344.0 1158.8,355.0C1160.1,366.0 1162.5,384.0 1163.8,395.0C1165.1,406.0 1167.6,426.8 1168.8,437.5C1170.0,448.2 1171.7,465.7 1172.5,475.0C1173.3,484.3 1174.3,499.2 1175.0,507.5C1175.7,515.8 1176.6,524.7 1177.5,537.0C1178.4,549.3 1181.0,584.9 1182.0,600.0C1183.0,615.1 1184.1,639.0 1185.0,650.0C1185.9,661.0 1187.8,672.5 1188.8,682.5C1189.8,692.5 1191.3,715.7 1192.5,725.0C1193.7,734.3 1196.2,748.8 1197.5,752.5C1198.8,756.2 1201.1,753.2 1202.5,752.5C1203.9,751.8 1206.7,746.5 1208.0,747.5C1209.3,748.5 1211.2,755.7 1212.5,760.0C1213.8,764.3 1216.2,773.0 1217.5,780.0C1218.8,787.0 1221.2,805.5 1222.5,812.5C1223.8,819.5 1226.0,828.3 1227.5,832.5C1229.0,836.7 1232.0,841.6 1233.8,843.8C1235.6,846.0 1239.1,848.8 1241.3,848.8C1243.5,848.8 1248.2,843.6 1250.0,843.8C1251.8,844.0 1253.7,846.5 1255.0,850.0C1256.3,853.5 1258.3,864.7 1260.0,870.0C1261.7,875.3 1265.3,885.5 1267.5,890.0C1269.7,894.5 1274.1,901.8 1276.3,903.8C1278.5,905.8 1282.0,907.5 1283.8,905.0C1285.6,902.5 1288.3,889.3 1290.0,885.0C1291.7,880.7 1294.6,873.7 1296.3,872.5C1298.0,871.3 1300.8,875.0 1302.5,876.3C1304.2,877.6 1307.1,883.3 1308.8,882.5C1310.5,881.7 1313.7,876.0 1315.0,870.0C1316.3,864.0 1317.6,845.5 1318.8,837.5C1320.0,829.5 1322.1,816.3 1323.8,810.0C1325.5,803.7 1329.6,796.7 1331.3,790.0C1333.0,783.3 1335.1,767.3 1336.3,760.0C1337.5,752.7 1339.2,739.0 1340.0,735.0C1340.8,731.0 1341.7,728.7 1342.5,730.0C1343.3,731.3 1345.1,739.0 1346.3,745.0C1347.5,751.0 1350.0,768.7 1351.3,775.0C1352.6,781.3 1355.0,788.5 1356.3,792.5C1357.6,796.5 1359.8,800.0 1361.3,805.0C1362.8,810.0 1365.8,824.0 1367.5,830.0C1369.2,836.0 1372.1,846.3 1373.8,850.0C1375.5,853.7 1378.3,856.8 1380.0,857.5C1381.7,858.2 1384.6,857.0 1386.3,855.0C1388.0,853.0 1390.7,847.8 1392.5,842.5C1394.3,837.2 1398.2,822.3 1400.0,815.0C1401.8,807.7 1404.8,796.2 1406.3,787.5C1407.8,778.8 1410.0,760.7 1411.3,750.0C1412.6,739.3 1415.0,716.8 1416.3,707.5C1417.6,698.2 1420.1,685.0 1421.3,680.0C1422.5,675.0 1424.0,670.0 1425.0,670.0C1426.0,670.0 1427.6,675.3 1428.8,680.0C1430.0,684.7 1432.5,699.5 1433.8,705.0C1435.1,710.5 1437.6,718.7 1438.8,721.3C1440.0,723.9 1441.0,724.5 1442.5,724.5C1444.0,724.5 1447.8,723.9 1450.0,721.3C1452.2,718.7 1456.8,708.3 1458.8,705.0C1460.8,701.7 1463.5,699.6 1465.0,696.3C1466.5,693.0 1468.7,684.8 1470.0,680.0C1471.3,675.2 1473.5,664.7 1475.0,660.0C1476.5,655.3 1479.8,650.3 1481.3,645.0C1482.8,639.7 1484.7,627.7 1486.0,620.0C1487.3,612.3 1489.5,593.5 1490.8,587.0C1492.1,580.5 1494.5,573.8 1495.8,571.2C1497.1,568.6 1499.4,566.5 1500.7,567.6C1502.0,568.7 1504.4,573.6 1505.7,579.1C1507.0,584.6 1509.4,599.8 1510.7,609.0C1512.0,618.2 1514.6,640.5 1515.7,648.0C1516.8,655.5 1517.7,659.4 1518.8,665.0C1519.9,670.6 1522.5,685.3 1523.8,690.0C1525.1,694.7 1527.5,698.6 1528.8,700.0C1530.1,701.4 1532.5,702.1 1533.8,700.8C1535.1,699.5 1537.5,693.8 1538.8,690.0C1540.1,686.2 1542.7,677.8 1543.8,672.5C1544.9,667.2 1546.1,659.7 1547.0,650.0C1547.9,640.3 1549.5,610.8 1550.5,600.0C1551.5,589.2 1553.3,576.5 1554.5,569.2C1555.7,561.9 1558.3,553.5 1559.5,545.3C1560.7,537.1 1562.6,517.0 1563.5,507.4C1564.4,497.8 1565.6,482.1 1566.4,473.6C1567.2,465.1 1568.5,449.0 1569.4,443.7C1570.3,438.4 1572.1,434.1 1573.0,433.8C1573.9,433.5 1575.5,438.5 1576.4,441.7C1577.3,444.9 1578.5,454.0 1579.4,457.7C1580.3,461.4 1582.5,467.3 1583.4,469.6C1584.3,471.9 1585.6,475.2 1586.4,475.2C1587.2,475.2 1588.5,473.3 1589.3,469.6C1590.1,465.9 1591.6,454.9 1592.3,447.7C1593.0,440.5 1594.3,425.5 1594.9,415.8C1595.5,406.1 1596.2,390.5 1596.9,375.0C1597.6,359.5 1599.5,317.3 1600.5,299.6C1601.5,281.9 1603.1,254.5 1604.1,242.0C1605.1,229.5 1606.9,212.6 1607.7,206.0C1608.5,199.4 1609.6,187.5 1610.2,192.3C1610.8,197.1 1611.7,227.7 1612.0,242.0C1612.3,256.3 1612.5,283.3 1612.7,299.6C1612.9,315.9 1613.3,345.3 1613.5,364.0C1613.7,382.7 1614.1,419.0 1614.5,440.0C1614.9,461.0 1616.3,521.4 1616.8,521.4C1617.3,521.4 1618.1,461.0 1618.5,440.0C1618.9,419.0 1619.5,378.6 1620.0,364.0C1620.5,349.4 1621.8,330.6 1622.5,330.6C1623.2,330.6 1624.5,349.4 1625.0,364.0C1625.5,378.6 1626.0,418.3 1626.5,440.0C1627.0,461.7 1628.0,518.5 1628.8,526.4C1629.6,534.3 1631.5,511.1 1632.2,499.5C1632.9,487.9 1633.7,456.3 1634.1,439.7C1634.5,423.1 1635.1,389.8 1635.5,375.0C1635.9,360.2 1636.5,336.0 1637.2,328.5C1637.9,321.0 1639.5,319.5 1640.4,319.1C1641.3,318.7 1642.8,323.7 1643.7,325.6C1644.6,327.5 1646.3,333.5 1647.3,333.5C1648.3,333.5 1650.0,328.8 1650.9,325.6C1651.8,322.4 1652.9,312.6 1653.8,309.7C1654.7,306.8 1656.3,304.8 1657.4,304.0C1658.5,303.2 1661.3,302.7 1662.4,304.0C1663.5,305.3 1664.5,310.2 1665.3,314.0C1666.1,317.8 1667.5,330.9 1668.2,332.8C1668.9,334.7 1669.7,330.1 1670.4,328.5C1671.1,326.9 1672.3,321.1 1673.2,320.5C1674.1,319.9 1675.7,322.3 1676.8,324.1C1677.9,325.9 1680.1,331.1 1681.2,334.2C1682.3,337.3 1683.8,343.2 1684.8,347.2C1685.8,351.2 1687.3,359.6 1688.4,364.0C1689.5,368.4 1691.5,376.8 1692.9,380.0C1694.3,383.2 1697.3,384.0 1698.9,388.0C1700.5,392.0 1703.5,405.7 1704.8,409.9C1706.1,414.1 1707.7,417.1 1708.8,419.8C1709.9,422.5 1711.7,428.6 1712.8,429.8C1713.9,431.0 1715.7,428.6 1716.8,428.8C1717.9,429.0 1719.7,431.1 1720.8,431.4C1721.9,431.7 1723.8,432.5 1724.7,431.4C1725.6,430.3 1726.8,424.6 1727.7,422.8C1728.6,421.0 1730.8,419.5 1731.7,417.8C1732.6,416.1 1733.8,411.2 1734.7,409.9C1735.6,408.6 1737.6,409.5 1738.7,407.9C1739.8,406.3 1741.6,400.8 1742.7,397.9C1743.8,395.0 1745.6,390.5 1746.7,386.0C1747.8,381.5 1749.9,369.2 1751.0,364.0C1752.1,358.8 1753.6,351.2 1754.6,347.2C1755.6,343.2 1758.2,335.9 1758.7,334.2"/>
</g>
<text class="dg" transform="translate(1724.8,1237.6) scale(1,1.04)" font-size="44.2">500</text>
<text class="dg" transform="translate(1485.8,1237.6) scale(1,1.04)" font-size="44.2">1000</text>
<text class="dg" transform="translate(1258.6,1237.6) scale(1,1.04)" font-size="44.2">1500</text>
<text class="dg" transform="translate(1032.5,1237.6) scale(1,1.04)" font-size="44.2">2000</text>
<text class="dg" transform="translate(805.2,1237.6) scale(1,1.04)" font-size="44.2">2500</text>
<text class="dg" transform="translate(577.7,1237.6) scale(1,1.04)" font-size="44.2">3000</text>
<text class="dg" transform="translate(350.5,1237.6) scale(1,1.04)" font-size="44.2">3500</text>
<text class="dg" transform="translate(123.9,1237.6) scale(1,1.04)" font-size="44.2">4000</text>
<text class="dg" transform="translate(112.6,1194.9) scale(1,1.04)" font-size="44.2">0</text>
<text class="dg" transform="translate(90.5,964.1) scale(1,1.04)" font-size="44.2">20</text>
<text class="dg" transform="translate(90.5,733.3) scale(1,1.04)" font-size="44.2">40</text>
<text class="dg" transform="translate(90.5,502.5) scale(1,1.04)" font-size="44.2">60</text>
<text class="dg" transform="translate(90.5,271.7) scale(1,1.04)" font-size="44.2">80</text>
<text class="dg" transform="translate(68.4,40.9) scale(1,1.04)" font-size="44.2">100</text>
<text class="tx" font-size="46.2" x="780.2" y="1322.6">Wavenumber (cm<tspan font-size="32.5" x="1110.6" y="1299.8">−1</tspan><tspan x="1147.5" y="1322.6">)</tspan></text>
<text class="tx" font-size="47.9" transform="translate(55.6,811.4) rotate(-90)">Transmittance</text>
<text class="tx" font-size="47" transform="translate(55.6,509.8) rotate(-90)">(%)</text>
<line x1="232.8" y1="817.1" x2="339.9" y2="817.1" stroke="#000000" stroke-width="4.6" stroke-linecap="round"/>
<text class="leg tx" transform="translate(367.3,836.9) scale(1,1.03)">Adding 0 microcapsule primer film</text>
<line x1="232.8" y1="879.9" x2="339.9" y2="879.9" stroke="#ff0000" stroke-width="4.6" stroke-linecap="round"/>
<text class="leg tx" transform="translate(367.3,899.6) scale(1,1.03)">Adding 5% microcapsule primer film</text>
<line x1="232.8" y1="942.6" x2="339.9" y2="942.6" stroke="#0000ff" stroke-width="4.6" stroke-linecap="round"/>
<text class="leg tx" transform="translate(367.3,962.4) scale(1,1.03)">Adding 10% microcapsule primer film</text>
<line x1="232.8" y1="1005.4" x2="339.9" y2="1005.4" stroke="#008080" stroke-width="4.6" stroke-linecap="round"/>
<text class="leg tx" transform="translate(367.3,1025.2) scale(1,1.03)">Adding 25% microcapsule primer film</text>
<line x1="232.8" y1="1068.1" x2="339.9" y2="1068.1" stroke="#ff00ff" stroke-width="4.6" stroke-linecap="round"/>
<text class="leg tx" transform="translate(367.3,1087.9) scale(1,1.03)">microcapsule prepared at 600rpm</text>
<line x1="654.1" y1="286.4" x2="654.1" y2="184.5" stroke="#000" stroke-width="2.4"/><polygon points="654.1,152.5 646.4,184.5 661.8000000000001,184.5" fill="#000"/>
<text class="dg" transform="translate(583.8,335.5) scale(1,1.045)" font-size="60.5">2930</text>
<line x1="467.0" y1="570.4" x2="467.0" y2="653.5" stroke="#000" stroke-width="2.4"/><polygon points="467.0,685.5 459.3,653.5 474.7,653.5" fill="#000"/>
<text class="dg" transform="translate(427.1,547.0) scale(1,1.045)" font-size="66.6">3343</text>
<line x1="1205.8" y1="420.9" x2="1205.8" y2="359" stroke="#000" stroke-width="2.4"/><polygon points="1205.8,327 1198.1,359 1213.5,359" fill="#000"/>
<text class="dg" transform="translate(1175.6,460.4) scale(1,1.045)" font-size="66.6">1726</text>
<line x1="1325.8" y1="228.7" x2="1325.8" y2="179.5" stroke="#000" stroke-width="2.4"/><polygon points="1325.8,147.5 1318.1,179.5 1333.5,179.5" fill="#000"/>
<text class="dg" transform="translate(1252.3,284.9) scale(1,1.045)" font-size="66.6">1447</text>
<line x1="1283.3" y1="1010" x2="1283.3" y2="947.5" stroke="#000" stroke-width="2.4"/><polygon points="1283.3,915.5 1275.6,947.5 1291.0,947.5" fill="#000"/>
<text class="dg" transform="translate(1217.6,1080.5) scale(1,1.045)" font-size="66.6">1600</text>
</svg>
</body>
</html>
